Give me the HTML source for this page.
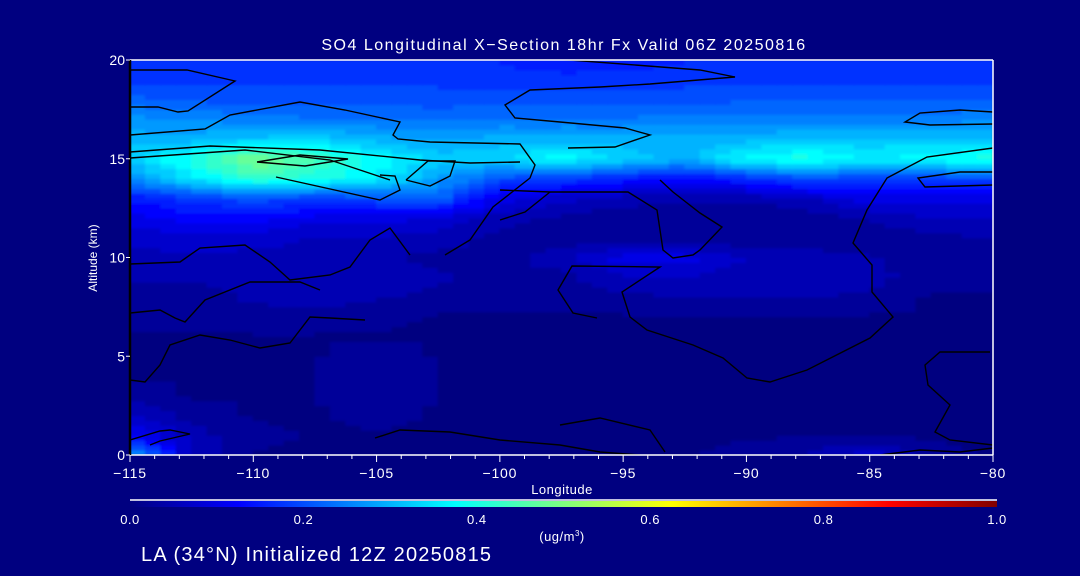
<!DOCTYPE html>
<html><head><meta charset="utf-8">
<style>
html,body{margin:0;padding:0;background:#000080;}
svg{display:block;font-family:"Liberation Sans",sans-serif;}
</style></head>
<body>
<svg id="chart" width="1080" height="576" viewBox="0 0 1080 576">
<defs>
<linearGradient id="jet" x1="0" x2="1" y1="0" y2="0">
<stop offset="0" stop-color="#000080"/><stop offset="0.125" stop-color="#0000ff"/>
<stop offset="0.375" stop-color="#00ffff"/><stop offset="0.625" stop-color="#ffff00"/>
<stop offset="0.875" stop-color="#ff0000"/><stop offset="1" stop-color="#800000"/>
</linearGradient>
<clipPath id="plotclip"><rect x="130" y="60" width="863" height="395"/></clipPath>
<filter id="soft"><feGaussianBlur stdDeviation="1.2"/></filter>
</defs>
<rect x="0" y="0" width="1080" height="576" fill="#000080"/>
<text x="564" y="50" fill="#fff" font-size="16" letter-spacing="1.5" text-anchor="middle">SO4 Longitudinal X−Section 18hr  Fx Valid 06Z 20250816</text>
<g id="heat" clip-path="url(#plotclip)" filter="url(#soft)"></g>
<g id="contours" fill="none" stroke="#000" stroke-width="1.4" clip-path="url(#plotclip)"></g>
<g id="axes"></g>
<text x="97" y="258" fill="#fff" font-size="12" text-anchor="middle" transform="rotate(-90 97 258)">Altitude (km)</text>
<text x="562" y="494" fill="#fff" font-size="13" letter-spacing="0.5" text-anchor="middle">Longitude</text>
<line x1="130" y1="500" x2="997" y2="500" stroke="#fff" stroke-width="1.5"/>
<rect x="130" y="501" width="867" height="6" fill="url(#jet)"/>
<g id="cbticks" fill="#fff" font-size="13" letter-spacing="0.5" text-anchor="middle"></g>
<text x="562" y="541" fill="#fff" font-size="13" letter-spacing="0.5" text-anchor="middle">(ug/m<tspan font-size="8" dy="-5">3</tspan><tspan dy="5">)</tspan></text>
<text x="141" y="561" fill="#fff" font-size="20" letter-spacing="1.2">LA (34°N) Initialized 12Z 20250815</text>
</svg>
<script>
const lons = [-115,-112.5,-110,-107.5,-105,-102.5,-100,-97.5,-95,-92.5,-90,-87.5,-85,-82.5,-80];
const alts = [0,1,2,3,4,5,6,7,8,9,10,11,12,13,14,15,16,17,18,19,20];
const conc = [
[0.30,0.06,0.01,0.01,0.01,0.01,0.01,0.01,0.01,0.01,0.02,0.04,0.08,0.02,0.01],
[0.12,0.05,0.02,0.01,0.01,0.01,0.01,0.01,0.01,0.01,0.01,0.01,0.01,0.01,0.01],
[0.06,0.03,0.01,0.01,0.02,0.01,0.01,0.01,0.01,0.01,0.01,0.01,0.01,0.01,0.01],
[0.03,0.01,0.01,0.01,0.04,0.01,0.01,0.01,0.01,0.01,0.01,0.01,0.01,0.01,0.01],
[0.01,0.01,0.01,0.01,0.04,0.01,0.01,0.01,0.01,0.01,0.01,0.01,0.01,0.01,0.01],
[0.01,0.01,0.01,0.01,0.03,0.01,0.01,0.01,0.01,0.01,0.01,0.01,0.01,0.01,0.01],
[0.01,0.01,0.01,0.01,0.01,0.01,0.01,0.01,0.01,0.01,0.01,0.01,0.01,0.01,0.01],
[0.02,0.02,0.03,0.03,0.02,0.01,0.01,0.01,0.01,0.01,0.01,0.01,0.01,0.01,0.01],
[0.03,0.03,0.04,0.05,0.04,0.03,0.02,0.02,0.03,0.04,0.04,0.04,0.03,0.01,0.01],
[0.04,0.04,0.04,0.05,0.06,0.04,0.03,0.03,0.06,0.06,0.05,0.05,0.05,0.02,0.02],
[0.05,0.06,0.05,0.04,0.04,0.03,0.03,0.05,0.10,0.10,0.06,0.05,0.04,0.02,0.02],
[0.07,0.08,0.08,0.06,0.06,0.05,0.03,0.02,0.02,0.02,0.02,0.02,0.02,0.03,0.04],
[0.10,0.12,0.12,0.10,0.10,0.08,0.05,0.03,0.02,0.02,0.02,0.02,0.04,0.06,0.06],
[0.14,0.18,0.20,0.18,0.20,0.22,0.10,0.07,0.05,0.04,0.04,0.06,0.10,0.10,0.10],
[0.25,0.35,0.42,0.40,0.36,0.28,0.20,0.18,0.15,0.12,0.16,0.20,0.18,0.18,0.20],
[0.33,0.40,0.50,0.45,0.38,0.33,0.33,0.38,0.33,0.30,0.38,0.40,0.36,0.38,0.40],
[0.30,0.30,0.32,0.33,0.30,0.28,0.30,0.30,0.30,0.30,0.30,0.32,0.32,0.32,0.32],
[0.27,0.26,0.25,0.24,0.24,0.23,0.24,0.24,0.24,0.25,0.25,0.25,0.25,0.25,0.26],
[0.22,0.21,0.20,0.20,0.20,0.20,0.20,0.20,0.20,0.20,0.21,0.21,0.21,0.21,0.21],
[0.18,0.18,0.18,0.18,0.18,0.18,0.17,0.17,0.17,0.18,0.18,0.18,0.18,0.18,0.18],
[0.16,0.17,0.17,0.17,0.17,0.17,0.16,0.15,0.15,0.16,0.16,0.16,0.16,0.16,0.16]
];
const xTicks = [-115,-110,-105,-100,-95,-90,-85,-80];
const yTicks = [0,5,10,15,20];
const cbLabels = ["0.0","0.2","0.4","0.6","0.8","1.0"];
const cbValues = [0,0.2,0.4,0.6,0.8,1.0];

const NS='http://www.w3.org/2000/svg';
const X0=130,X1=993,Y0=455,Y1=60;
function xs(lon){return X0+(lon+115)/35*(X1-X0);}
function ys(a){return Y0-a/20*(Y0-Y1);}
function clamp(v){return Math.max(0,Math.min(1,v));}
function jet(v){v=Math.round(v/0.025)*0.025;
 const r=clamp(1.5-Math.abs(4*v-3)),g=clamp(1.5-Math.abs(4*v-2)),b=clamp(1.5-Math.abs(4*v-1));
 return 'rgb('+Math.round(r*255)+','+Math.round(g*255)+','+Math.round(b*255)+')';}

const heat=document.getElementById('heat');
const SUB=4;
for(let i=0;i<alts.length-1;i++){
 for(let j=0;j<lons.length-1;j++){
  for(let si=0;si<SUB;si++){
   for(let sj=0;sj<SUB;sj++){
    const fi=(si+0.5)/SUB,fj=(sj+0.5)/SUB;
    const v=conc[i][j]*(1-fi)*(1-fj)+conc[i][j+1]*(1-fi)*fj+conc[i+1][j]*fi*(1-fj)+conc[i+1][j+1]*fi*fj;
    const la=lons[j]+(lons[j+1]-lons[j])*sj/SUB, lb=lons[j]+(lons[j+1]-lons[j])*(sj+1)/SUB;
    const aa=alts[i]+(alts[i+1]-alts[i])*si/SUB, ab=alts[i]+(alts[i+1]-alts[i])*(si+1)/SUB;
    const r=document.createElementNS(NS,'rect');
    r.setAttribute('x',xs(la)-0.5);r.setAttribute('y',ys(ab)-0.5);
    r.setAttribute('width',xs(lb)-xs(la)+1);r.setAttribute('height',ys(aa)-ys(ab)+1);
    r.setAttribute('fill',jet(v));
    
    
    heat.appendChild(r);
   }
  }
 }
}

const paths=[
 "130,70 187,70 235,81 188,111 178,112 158,107 130,107",
 "130,135 205,129 230,115 300,102 345,110 400,122 393,135 398,139 430,142 520,144 535,165 530,178 493,207 470,240 445,255",
 "130,152 210,146 320,150 420,160 470,163 520,162",
 "130,158 245,150 330,160 375,175 390,180",
 "257,162 300,155 348,159 305,166 257,162",
 "276,177 380,200 400,190 395,176 380,175",
 "406,180 428,161 455,161 450,176 430,186 406,180",
 "470,57 570,60 700,70 735,77 650,84 600,87 530,90 505,105 515,118 560,122 625,128 650,135 615,147 568,148",
 "500,190 550,192 628,192 657,210 663,250 673,258 693,255 700,250 722,227 700,213 673,192 660,180",
 "993,148 927,157 887,178 867,210 853,243 872,265 872,292 893,317 870,338 807,370 770,382 747,378 723,358 693,345 647,330 630,317 622,292 660,267 572,266 558,290 573,313 597,318",
 "500,220 525,212 550,192",
 "993,112 960,110 920,113 905,122 930,125 993,124",
 "993,172 960,172 918,178 925,187 993,185",
 "130,264 180,262 200,248 245,245 270,262 290,280 330,275 350,267 370,240 390,228 410,255",
 "130,313 160,310 175,318 185,322 205,300 250,282 300,282 320,290",
 "130,380 145,382 160,365 170,345 200,335 230,340 260,348 290,343 310,317 330,318 365,320",
 "990,352 940,352 925,365 928,385 950,405 935,432 950,440 993,445",
 "130,440 160,431 170,430 190,434 160,441 150,445",
 "375,438 400,430 450,432 500,440 560,445 600,452 640,455",
 "560,425 600,418 650,430 665,452",
 "880,455 920,450 960,452 993,448"
];
const cg=document.getElementById('contours');
paths.forEach(p=>{const pl=document.createElementNS(NS,'polyline');pl.setAttribute('points',p);
 
 
 cg.appendChild(pl);});

const ax=document.getElementById('axes');
function ln(x1,y1,x2,y2,c,w,name){const l=document.createElementNS(NS,'line');l.setAttribute('x1',x1);l.setAttribute('y1',y1);l.setAttribute('x2',x2);l.setAttribute('y2',y2);l.setAttribute('stroke',c);l.setAttribute('stroke-width',w);
 
 
 ax.appendChild(l);}
ln(X0,Y1,X1,Y1,'#fff',1.5,'plot-frame-top');
ln(X1,Y1,X1,Y0,'#fff',1.5,'plot-frame-right');
ln(X0,Y0,X1,Y0,'#fff',1.5,'x-axis-line');
ln(X0,Y1,X0,Y0,'#000',2.5,'y-axis-line');
for(let lon=-115;lon<=-80;lon++){const major=(lon%5===0);ln(xs(lon),Y0,xs(lon),Y0+(major?7:4),'#fff',1,'x-tick');}
xTicks.forEach(t=>{const tx=document.createElementNS(NS,'text');tx.setAttribute('x',xs(t));tx.setAttribute('y',Y0+23);tx.setAttribute('fill','#fff');tx.setAttribute('font-size','14');tx.setAttribute('letter-spacing','0.8');tx.setAttribute('text-anchor','middle');tx.textContent=(t<0?'−':'')+Math.abs(t);
 
 
 ax.appendChild(tx);});
yTicks.forEach(t=>{ln(X0-4,ys(t),X0,ys(t),'#fff',1,'y-tick');const tx=document.createElementNS(NS,'text');tx.setAttribute('x',X0-5);tx.setAttribute('y',ys(t)+5);tx.setAttribute('fill','#fff');tx.setAttribute('font-size','14');tx.setAttribute('text-anchor','end');tx.textContent=t;
 
 
 ax.appendChild(tx);});
const cb=document.getElementById('cbticks');
cbLabels.forEach((s,i)=>{const tx=document.createElementNS(NS,'text');tx.setAttribute('x',130+cbValues[i]*867);tx.setAttribute('y',524);tx.textContent=s;
 
 
 cb.appendChild(tx);});
</script>
</body></html>
